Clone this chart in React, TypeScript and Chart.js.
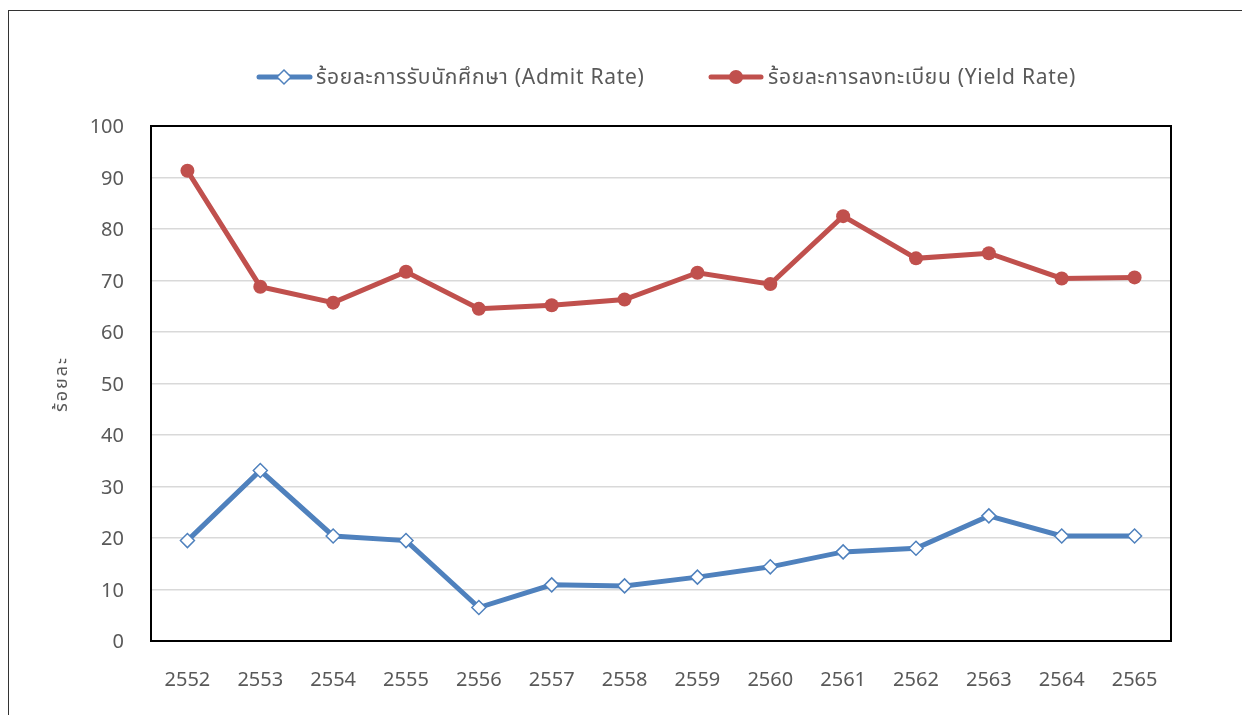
import React, { useEffect, useRef } from "react";
import { Chart, registerables } from "chart.js";

Chart.register(...registerables);

const years = ["2552", "2553", "2554", "2555", "2556", "2557", "2558", "2559", "2560", "2561", "2562", "2563", "2564", "2565"];
const admitRate = [19.5, 33.1, 20.4, 19.5, 6.5, 10.9, 10.7, 12.4, 14.4, 17.3, 18.0, 24.3, 20.4, 20.4];
const yieldRate = [91.3, 68.8, 65.7, 71.7, 64.5, 65.2, 66.3, 71.5, 69.3, 82.5, 74.3, 75.3, 70.4, 70.6];
const admitLabel = "ร้อยละการรับนักศึกษา (Admit Rate)";
const yieldLabel = "ร้อยละการลงทะเบียน (Yield Rate)";
const yTitle = "ร้อยละ";

const BLUE = "#4F81BD";
const RED = "#C0504D";
const TEXT = "#595959";
const FONT = "Tahoma, 'Noto Sans Thai', 'Noto Sans', 'DejaVu Sans', sans-serif";

const decorPlugin = {
  id: "decor",
  afterDraw(chart: any) {
    const { ctx, chartArea } = chart;
    ctx.save();
    ctx.strokeStyle = "#000";
    ctx.lineWidth = 2;
    ctx.strokeRect(chartArea.left, chartArea.top, chartArea.right - chartArea.left, chartArea.bottom - chartArea.top);
    ctx.translate(63, 384);
    ctx.rotate(-Math.PI / 2);
    ctx.fillStyle = TEXT;
    ctx.font = `18px ${FONT}`;
    (ctx as any).letterSpacing = "2px";
    ctx.textAlign = "center";
    ctx.textBaseline = "middle";
    ctx.fillText(yTitle, 0, 0);
    ctx.restore();

    ctx.save();
    ctx.font = `21px ${FONT}`;
    (ctx as any).letterSpacing = "0.7px";
    ctx.textBaseline = "middle";
    const ly = 77;
    ctx.strokeStyle = BLUE;
    ctx.lineWidth = 5;
    ctx.lineCap = "round";
    ctx.beginPath();
    ctx.moveTo(259, ly);
    ctx.lineTo(310, ly);
    ctx.stroke();
    ctx.beginPath();
    ctx.moveTo(284, ly - 7);
    ctx.lineTo(291, ly);
    ctx.lineTo(284, ly + 7);
    ctx.lineTo(277, ly);
    ctx.closePath();
    ctx.fillStyle = "#fff";
    ctx.fill();
    ctx.lineWidth = 1.5;
    ctx.stroke();
    ctx.fillStyle = TEXT;
    ctx.textAlign = "left";
    ctx.fillText(admitLabel, 316, ly + 3);
    ctx.strokeStyle = RED;
    ctx.lineWidth = 5;
    ctx.beginPath();
    ctx.moveTo(711, ly);
    ctx.lineTo(761, ly);
    ctx.stroke();
    ctx.beginPath();
    ctx.arc(736, ly, 7, 0, Math.PI * 2);
    ctx.fillStyle = RED;
    ctx.fill();
    ctx.fillStyle = TEXT;
    ctx.fillText(yieldLabel, 768, ly + 3);
    ctx.restore();
  },
};

export default function App() {
  const ref = useRef<HTMLCanvasElement>(null);
  useEffect(() => {
    if (!ref.current) return;
    const chart = new Chart(ref.current, {
      type: "line",
      data: {
        labels: years,
        datasets: [
          {
            label: admitLabel,
            data: admitRate,
            borderColor: BLUE,
            borderWidth: 5,
            pointStyle: "rectRot",
            pointRadius: 7,
            pointBackgroundColor: "#fff",
            pointBorderColor: BLUE,
            pointBorderWidth: 1.5,
          },
          {
            label: yieldLabel,
            data: yieldRate,
            borderColor: RED,
            borderWidth: 5,
            pointStyle: "circle",
            pointRadius: 7,
            pointBackgroundColor: RED,
            pointBorderColor: RED,
            pointBorderWidth: 0,
          },
        ],
      },
      options: {
        animation: false,
        responsive: false,
        layout: { padding: { left: 0, top: 126, right: 71, bottom: 0 } },
        plugins: { legend: { display: false }, tooltip: { enabled: false }, title: { display: false } },
        scales: {
          x: {
            offset: true,
            grid: { display: false, drawTicks: false },
            border: { display: false },
            ticks: { color: TEXT, font: { family: FONT, size: 20 }, padding: 29, maxRotation: 0 },
            afterFit: (s: any) => { s.height = 74; },
          },
          y: {
            min: 0,
            max: 100,
            grid: { color: "#D9D9D9", lineWidth: 1.5, drawTicks: false },
            border: { display: false },
            ticks: { stepSize: 10, color: TEXT, font: { family: FONT, size: 20 }, padding: 27, labelOffset: 3 },
            afterFit: (s: any) => { s.width = 151; },
          },
        },
      },
      plugins: [decorPlugin],
    });
    return () => chart.destroy();
  }, []);
  return (
    <div style={{ position: "fixed", left: 0, top: 0, width: 1242, height: 715, background: "#fff" }}>
      <div style={{ position: "absolute", left: 8, top: 10, right: 0, bottom: 0, borderLeft: "1px solid #333", borderTop: "1px solid #333" }} />
      <canvas ref={ref} width={1242} height={715} style={{ position: "absolute", left: 0, top: 0, display: "block" }} />
    </div>
  );
}
